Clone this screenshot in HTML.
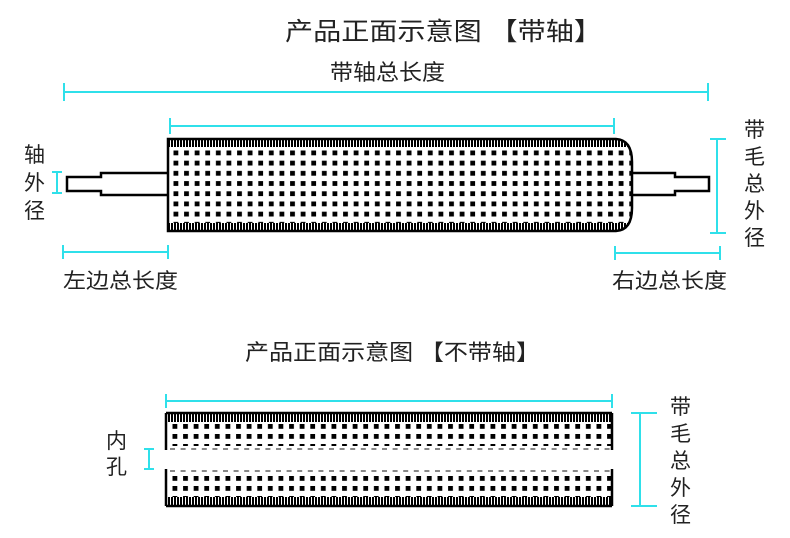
<!DOCTYPE html>
<html><head><meta charset="utf-8"><style>
html,body{margin:0;padding:0;background:#fff;}
svg{display:block;}
text{font-family:"Liberation Sans","Noto Sans CJK SC",sans-serif;fill:#222;}
</style></head><body>
<svg width="790" height="538" viewBox="0 0 790 538" xmlns="http://www.w3.org/2000/svg">
<defs>
<pattern id="hatch" width="3" height="9" patternUnits="userSpaceOnUse">
<rect width="3" height="9" fill="#fff"/><rect width="2" height="9" fill="#000"/>
</pattern>
<pattern id="dots" x="171" y="148" width="10.6" height="10.2" patternUnits="userSpaceOnUse">
<rect x="2.5" y="2.5" width="4.8" height="4.8" fill="#000"/>
</pattern>
<pattern id="dots2" x="170" y="422" width="10.6" height="10" patternUnits="userSpaceOnUse">
<rect x="2.5" y="2" width="4.8" height="4.8" fill="#000"/>
</pattern>
<pattern id="dots3" x="170" y="474" width="10.6" height="10" patternUnits="userSpaceOnUse">
<rect x="2.5" y="2" width="4.8" height="4.8" fill="#000"/>
</pattern>
<clipPath id="bodyclip"><path d="M168,139 H616 Q632,140 632,162 V208 Q632,230 616,231 H168 Z"/></clipPath>
</defs>

<text x="285" y="40" font-size="25" textLength="317" lengthAdjust="spacingAndGlyphs">产品正面示意图 【带轴】</text>
<text x="330" y="80" font-size="22" textLength="115" lengthAdjust="spacingAndGlyphs">带轴总长度</text>

<g stroke="#2fe0ea" stroke-width="2" fill="none">
<line x1="64" y1="92" x2="708" y2="92"/><line x1="64" y1="83" x2="64" y2="101"/><line x1="708" y1="83" x2="708" y2="101"/>
<line x1="170" y1="126" x2="614" y2="126"/><line x1="170" y1="118" x2="170" y2="134"/><line x1="614" y1="118" x2="614" y2="134"/>
<line x1="717" y1="139" x2="717" y2="233"/><line x1="710" y1="139" x2="726" y2="139"/><line x1="710" y1="233" x2="726" y2="233"/>
<line x1="57" y1="172" x2="57" y2="193"/><line x1="52" y1="172" x2="62" y2="172"/><line x1="52" y1="193" x2="62" y2="193"/>
<line x1="63" y1="252" x2="168" y2="252"/><line x1="63" y1="245" x2="63" y2="259"/><line x1="168" y1="245" x2="168" y2="259"/>
<line x1="615" y1="253" x2="720" y2="253"/><line x1="615" y1="246" x2="615" y2="260"/><line x1="720" y1="246" x2="720" y2="260"/>
</g>

<g stroke="#000" stroke-width="2.5" fill="#fff">
<path d="M168,173 H101 V177 H67 V191 H101 V195 H168"/>
<path d="M630,173 H675 V177 H709 V191 H675 V195 H630"/>
</g>

<g clip-path="url(#bodyclip)">
<rect x="168" y="139" width="466" height="92" fill="#fff"/>
<rect x="168" y="139" width="466" height="92" fill="url(#dots)"/>
<rect x="168" y="139" width="466" height="8" fill="url(#hatch)"/>
<rect x="168" y="223" width="466" height="8" fill="url(#hatch)"/>
</g>
<path d="M168,139 H616 Q632,140 632,162 V208 Q632,230 616,231 H168 Z" fill="none" stroke="#000" stroke-width="2.5"/>

<g font-size="21">
<text x="24" y="162">轴</text><text x="24" y="190">外</text><text x="24" y="218">径</text>
<text x="744" y="137">带</text><text x="744" y="164">毛</text><text x="744" y="191">总</text><text x="744" y="218">外</text><text x="744" y="245">径</text>
<text x="63" y="288" textLength="115" lengthAdjust="spacingAndGlyphs">左边总长度</text>
<text x="612" y="288" textLength="115" lengthAdjust="spacingAndGlyphs">右边总长度</text>
</g>

<text x="245" y="360" font-size="22" textLength="295" lengthAdjust="spacingAndGlyphs">产品正面示意图 【不带轴】</text>

<g stroke="#2fe0ea" stroke-width="2" fill="none">
<line x1="166" y1="401" x2="612" y2="401"/><line x1="166" y1="394" x2="166" y2="408"/><line x1="612" y1="394" x2="612" y2="408"/>
<line x1="640" y1="413" x2="640" y2="506"/><line x1="631" y1="413" x2="657" y2="413"/><line x1="631" y1="506" x2="657" y2="506"/>
<line x1="149" y1="449" x2="149" y2="469"/><line x1="144" y1="449" x2="154" y2="449"/><line x1="144" y1="469" x2="154" y2="469"/>
</g>

<rect x="166" y="413" width="446" height="38" fill="url(#dots2)"/>
<rect x="166" y="413" width="446" height="9" fill="url(#hatch)"/>
<rect x="166" y="468" width="446" height="38" fill="url(#dots3)"/>
<rect x="166" y="497" width="446" height="9" fill="url(#hatch)"/>
<rect x="166" y="446" width="446" height="7" fill="#fff"/>
<rect x="166" y="468" width="446" height="4" fill="#fff"/>
<g stroke="#888" stroke-width="2" stroke-dasharray="5,5.6">
<line x1="170" y1="449" x2="610" y2="449"/><line x1="170" y1="471" x2="610" y2="471"/>
</g>
<g stroke="#000" stroke-width="2.5">
<line x1="166" y1="413" x2="612" y2="413"/><line x1="166" y1="506" x2="612" y2="506"/>
<line x1="166" y1="413" x2="166" y2="450"/><line x1="166" y1="469" x2="166" y2="506"/>
<line x1="612" y1="413" x2="612" y2="450"/><line x1="612" y1="469" x2="612" y2="506"/>
</g>

<g font-size="21">
<text x="106" y="448">内</text><text x="106" y="474">孔</text>
<text x="670" y="414">带</text><text x="670" y="441">毛</text><text x="670" y="468">总</text><text x="670" y="495">外</text><text x="670" y="522">径</text>
</g>
</svg>
</body></html>
